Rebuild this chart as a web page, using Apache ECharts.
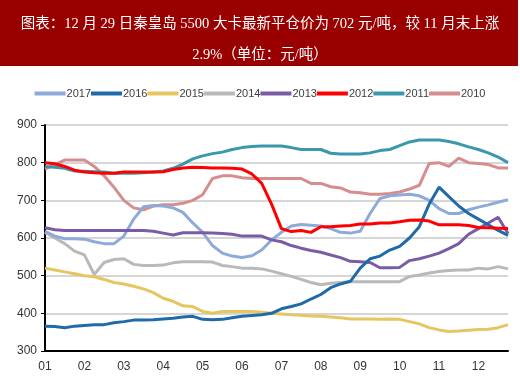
<!DOCTYPE html>
<html><head><meta charset="utf-8">
<script src="https://cdn.jsdelivr.net/npm/echarts@6/dist/echarts.min.js"></script>
<style>html,body{margin:0;padding:0;background:#fff}#c{width:520px;height:388px}</style>
</head><body><div id="c"></div>
<script>
const titleText = '图表：12 月 29 日秦皇岛 5500 大卡最新平仓价为 702 元/吨，较 11 月末上涨\n2.9%（单位：元/吨）';
const months = ['01','02','03','04','05','06','07','08','09','10','11','12'];
const categories = months.flatMap(m => [m + '-1', m + '-2', m + '-3', m + '-4']);
const yTicks = [300, 400, 500, 600, 700, 800, 900];

const s2017 = [618,605,598,598,597,590,585,585,605,650,683,686,685,680,668,640,615,580,560,552,548,553,568,595,615,632,636,634,632,625,615,613,618,665,705,712,714,716,712,700,678,665,665,675,682,688,695,702];
const s2016 = [366,365,362,366,368,370,370,375,378,382,382,383,385,387,390,392,384,383,384,388,392,394,396,400,412,418,425,438,450,468,478,485,520,545,552,568,578,600,630,690,735,710,685,665,650,635,620,607];
const s2015 = [520,515,510,505,500,497,490,482,478,472,465,455,440,432,420,418,405,400,405,405,405,405,403,400,398,396,395,393,392,390,388,385,385,385,384,385,384,378,372,362,356,352,353,355,357,358,362,370];
const s2014 = [615,600,585,565,555,503,535,543,545,530,527,527,528,534,537,537,537,536,527,524,520,520,518,512,505,498,490,482,476,480,482,484,484,484,484,484,484,498,502,507,511,514,515,515,520,518,524,518];
const s2013 = [627,622,620,620,620,620,620,620,620,620,620,618,613,608,614,614,614,613,612,610,605,605,605,595,590,580,573,567,562,555,548,538,537,535,521,521,522,540,545,552,560,572,585,610,625,640,655,612];
const s2012 = [800,797,790,780,775,773,772,772,775,775,775,775,776,782,786,788,787,786,786,785,783,770,745,690,625,617,620,615,630,630,632,633,637,637,640,640,643,647,648,645,635,635,635,633,628,627,626,625];
const s2011 = [790,788,785,778,777,776,775,772,772,772,773,775,778,785,796,810,818,824,828,835,840,843,844,844,844,840,835,835,835,825,823,823,823,826,832,835,845,855,860,860,860,856,850,842,835,826,815,800];
const s2010 = [783,795,807,807,807,790,765,735,700,680,675,685,688,688,692,700,715,758,765,765,760,758,758,758,758,758,758,745,745,736,733,722,720,716,716,718,722,730,740,798,800,790,812,800,798,795,786,786];

const seriesNames = ['2017','2016','2015','2014','2013','2012','2011','2010'];
const seriesData = [s2017, s2016, s2015, s2014, s2013, s2012, s2011, s2010];
const colors = ['#8eaad9','#1f6aa8','#e6c660','#b9b9b9','#7a5ca6','#ff0000','#3a98ac','#d68d8d'];
const zs = [3,4,2,2,3,5,3,2];

const chart = echarts.init(document.getElementById('c'));
chart.setOption({
  animation: false,
  color: colors,
  graphic: [{type:'rect', left:0, top:0, shape:{width:518, height:66}, style:{fill:'#990000'}, z:-1}],
  title: {
    text: titleText, left: 'center', top: 4,
    textStyle: {color:'#ffffff', fontSize:14.5, fontWeight:'normal', fontFamily:'"Liberation Serif","Noto Sans CJK SC",serif', lineHeight:31}
  },
  legend: {
    top: 83, left: 'center', icon: 'rect', itemWidth: 31, itemHeight: 4, itemGap: 0,
    textStyle: {fontSize: 11, color:'#404040', fontFamily:'"Liberation Sans Narrow","Liberation Sans",Arial', padding:[0,0,0,-4]},
    data: seriesNames
  },
  grid: {left: 45, right: 12, top: 125, bottom: 37},
  xAxis: {
    type: 'category', data: categories, boundaryGap: false,
    axisLine: {lineStyle: {color:'#000', width: 2}},
    axisTick: {show: false},
    axisLabel: {interval: 3, color:'#333', fontSize: 12, margin: 10, fontFamily:'"Liberation Sans Narrow","Liberation Sans",Arial', formatter: v => v.split('-')[0]},
    splitLine: {show: false}
  },
  yAxis: {
    type: 'value', min: yTicks[0], max: yTicks[yTicks.length-1], interval: 100,
    axisLine: {show: true, lineStyle: {color:'#000', width: 2}},
    axisTick: {show: true, length: 4, lineStyle: {color:'#000'}},
    axisLabel: {color:'#333', fontSize: 12, margin: 8, fontFamily:'"Liberation Sans Narrow","Liberation Sans",Arial'},
    splitLine: {lineStyle: {color:'#c8c8c8', width: 1.5}}
  },
  series: seriesNames.map((n, k) => ({
    name: n, type: 'line', data: seriesData[k], showSymbol: false, symbol: 'none', z: zs[k],
    lineStyle: {width: 3, color: colors[k]}
  }))
});
</script></body></html>
